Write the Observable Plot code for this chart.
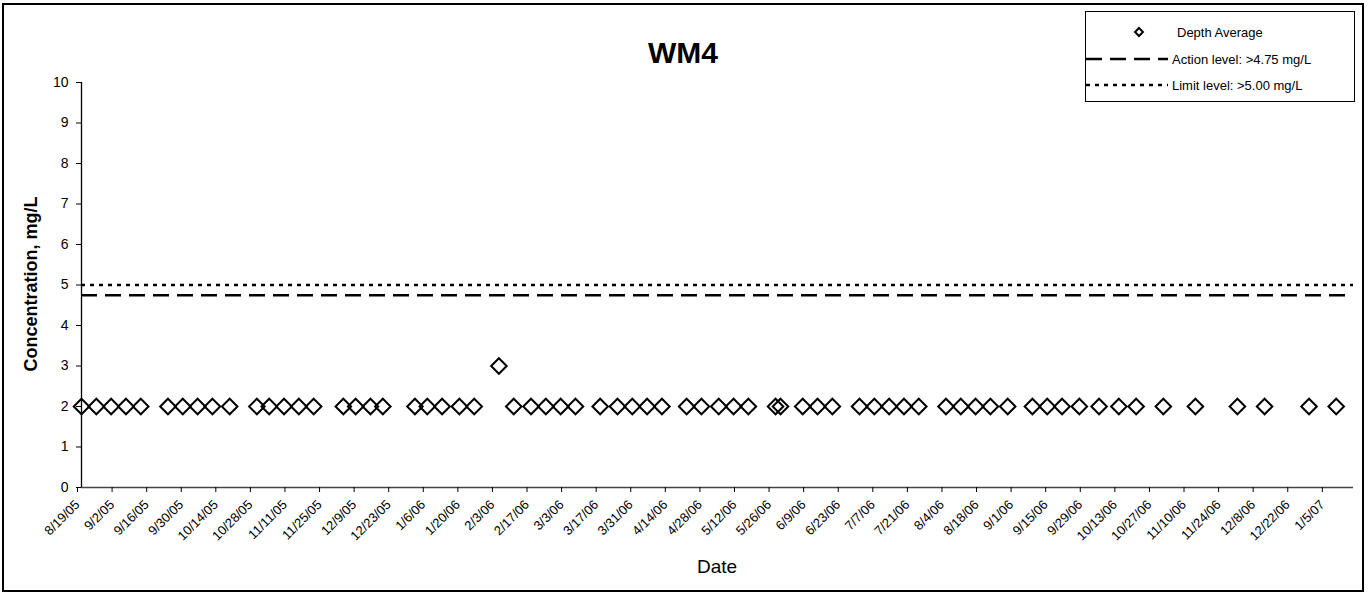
<!DOCTYPE html>
<html><head><meta charset="utf-8">
<script src="https://cdn.jsdelivr.net/npm/d3@7"></script>
<script src="https://cdn.jsdelivr.net/npm/@observablehq/plot@0.6"></script>
<style>
body{margin:0;background:#fff;font-family:"Liberation Sans",Arial,sans-serif;}
#wrap{position:relative;width:1369px;height:595px;overflow:hidden;}
#border{position:absolute;left:2px;top:3px;width:1362px;height:589px;border:2px solid #000;box-sizing:border-box;pointer-events:none;}
#title{position:absolute;left:583px;width:200px;top:36px;text-align:center;font-weight:bold;font-size:30px;}
#ylab{position:absolute;left:31px;top:284px;transform:translate(-50%,-50%) rotate(-90deg);font-weight:bold;font-size:18px;white-space:nowrap;}
#xlab{position:absolute;left:617px;width:200px;top:556px;text-align:center;font-size:19px;}
#legend{position:absolute;left:1085px;top:11px;width:270px;height:91px;border:1px solid #000;box-sizing:border-box;background:#fff;font-size:13px;}
#legend svg{position:absolute;left:0;top:0;}
</style></head>
<body><div id="wrap"><div id="chart"></div>
<div id="title">WM4</div>
<div id="ylab">Concentration, mg/L</div>
<div id="xlab">Date</div>
<div id="legend"></div>
<div id="border"></div>
</div>
<script>
// ---- data ----
const sampleDates = [
 "2005-08-19","2005-08-25","2005-08-31","2005-09-06","2005-09-12",
 "2005-09-23","2005-09-29","2005-10-05","2005-10-11","2005-10-18",
 "2005-10-29","2005-11-03","2005-11-09","2005-11-15","2005-11-21",
 "2005-12-03","2005-12-08","2005-12-14","2005-12-19",
 "2006-01-01","2006-01-06","2006-01-12","2006-01-19","2006-01-25",
 "2006-02-04",
 "2006-02-10","2006-02-17","2006-02-23","2006-03-01","2006-03-07",
 "2006-03-17","2006-03-24","2006-03-30","2006-04-05","2006-04-11",
 "2006-04-21","2006-04-27","2006-05-04","2006-05-10","2006-05-16",
 "2006-05-27","2006-05-29",
 "2006-06-07","2006-06-13","2006-06-19",
 "2006-06-30","2006-07-06","2006-07-12","2006-07-18","2006-07-24",
 "2006-08-04","2006-08-10","2006-08-16","2006-08-22","2006-08-29",
 "2006-09-08","2006-09-14","2006-09-20","2006-09-27",
 "2006-10-05","2006-10-13","2006-10-20",
 "2006-10-31","2006-11-13","2006-11-30","2006-12-11","2006-12-29","2007-01-09"
];
const depthAverage = [
 2,2,2,2,2, 2,2,2,2,2, 2,2,2,2,2, 2,2,2,2, 2,2,2,2,2,
 3,
 2,2,2,2,2, 2,2,2,2,2, 2,2,2,2,2, 2,2, 2,2,2, 2,2,2,2,2,
 2,2,2,2,2, 2,2,2,2, 2,2,2, 2,2,2,2,2,2
];
const actionLevel = 4.75;
const limitLevel = 5.00;
const xTickLabels = ["8/19/05","9/2/05","9/16/05","9/30/05","10/14/05","10/28/05","11/11/05","11/25/05",
 "12/9/05","12/23/05","1/6/06","1/20/06","2/3/06","2/17/06","3/3/06","3/17/06","3/31/06","4/14/06",
 "4/28/06","5/12/06","5/26/06","6/9/06","6/23/06","7/7/06","7/21/06","8/4/06","8/18/06","9/1/06",
 "9/15/06","9/29/06","10/13/06","10/27/06","11/10/06","11/24/06","12/8/06","12/22/06","1/5/07"];
const yTicks = [0,1,2,3,4,5,6,7,8,9,10];
const xDomain = ["2005-08-19","2007-01-16"];
const legendLabels = ["Depth Average","Action level: >4.75 mg/L","Limit level: >5.00 mg/L"];

// ---- build ----
const parseTick = d3.utcParse("%m/%d/%y");
const tickDates = xTickLabels.map(parseTick);
const fmt = d => `${d.getUTCMonth()+1}/${d.getUTCDate()}/${String(d.getUTCFullYear()).slice(2)}`;
const rows = sampleDates.map((d,i) => ({date: new Date(d+"T00:00Z"), value: depthAverage[i]}));
const xDom = xDomain.map(d => new Date(d+"T00:00Z"));

const chart = Plot.plot({
  width: 1369, height: 595,
  marginLeft: 81, marginRight: 16, marginTop: 82, marginBottom: 108,
  style: {fontFamily: '"Liberation Sans", Arial, sans-serif', background: "transparent"},
  x: {type: "utc", domain: xDom},
  y: {domain: [0, 10]},
  marks: [
    Plot.ruleY([actionLevel], {stroke: "#000", strokeWidth: 2.5, strokeDasharray: "16,8"}),
    Plot.ruleY([limitLevel], {stroke: "#000", strokeWidth: 2.5, strokeDasharray: "4,5"}),
    Plot.ruleY([0], {stroke: "#444", strokeWidth: 1.3}),
    Plot.ruleX([xDom[0]], {y1: 0, y2: 10, stroke: "#000", strokeWidth: 1.3}),
    Plot.axisY({ticks: yTicks, tickSize: 5, tickPadding: 8, fontSize: 14, label: null, stroke: "#000", color: "#000"}),
    Plot.axisX({ticks: tickDates, tickFormat: fmt, tickRotate: -45, tickSize: 5, tickPadding: 10, dx: -4, fontSize: 13, label: null, stroke: "#000", color: "#000"}),
    Plot.dot(rows, {x: "date", y: "value", symbol: "diamond2", r: 7, stroke: "#000", strokeWidth: 2, fill: "none"})
  ]
});
document.getElementById("chart").appendChild(chart);

// ---- legend ----
const lg = d3.select("#legend").append("svg").attr("width", 270).attr("height", 91);
const rowsY = [20, 47, 73];
lg.append("path").attr("d", d3.symbol(d3.symbolDiamond2, 40)()).attr("transform", `translate(53,${rowsY[0]})`)
  .attr("fill", "none").attr("stroke", "#000").attr("stroke-width", 2);
lg.append("line").attr("x1", 0).attr("x2", 82).attr("y1", rowsY[1]).attr("y2", rowsY[1])
  .attr("stroke", "#000").attr("stroke-width", 2.5).attr("stroke-dasharray", "16,8");
lg.append("line").attr("x1", 0).attr("x2", 82).attr("y1", rowsY[2]).attr("y2", rowsY[2])
  .attr("stroke", "#000").attr("stroke-width", 2.5).attr("stroke-dasharray", "4,5");
legendLabels.forEach((t, i) => {
  lg.append("text").attr("x", i === 0 ? 91 : 86).attr("y", rowsY[i]).attr("dy", "0.35em")
    .attr("font-size", 13).attr("font-family", '"Liberation Sans", Arial, sans-serif').text(t);
});
</script>
</body></html>
